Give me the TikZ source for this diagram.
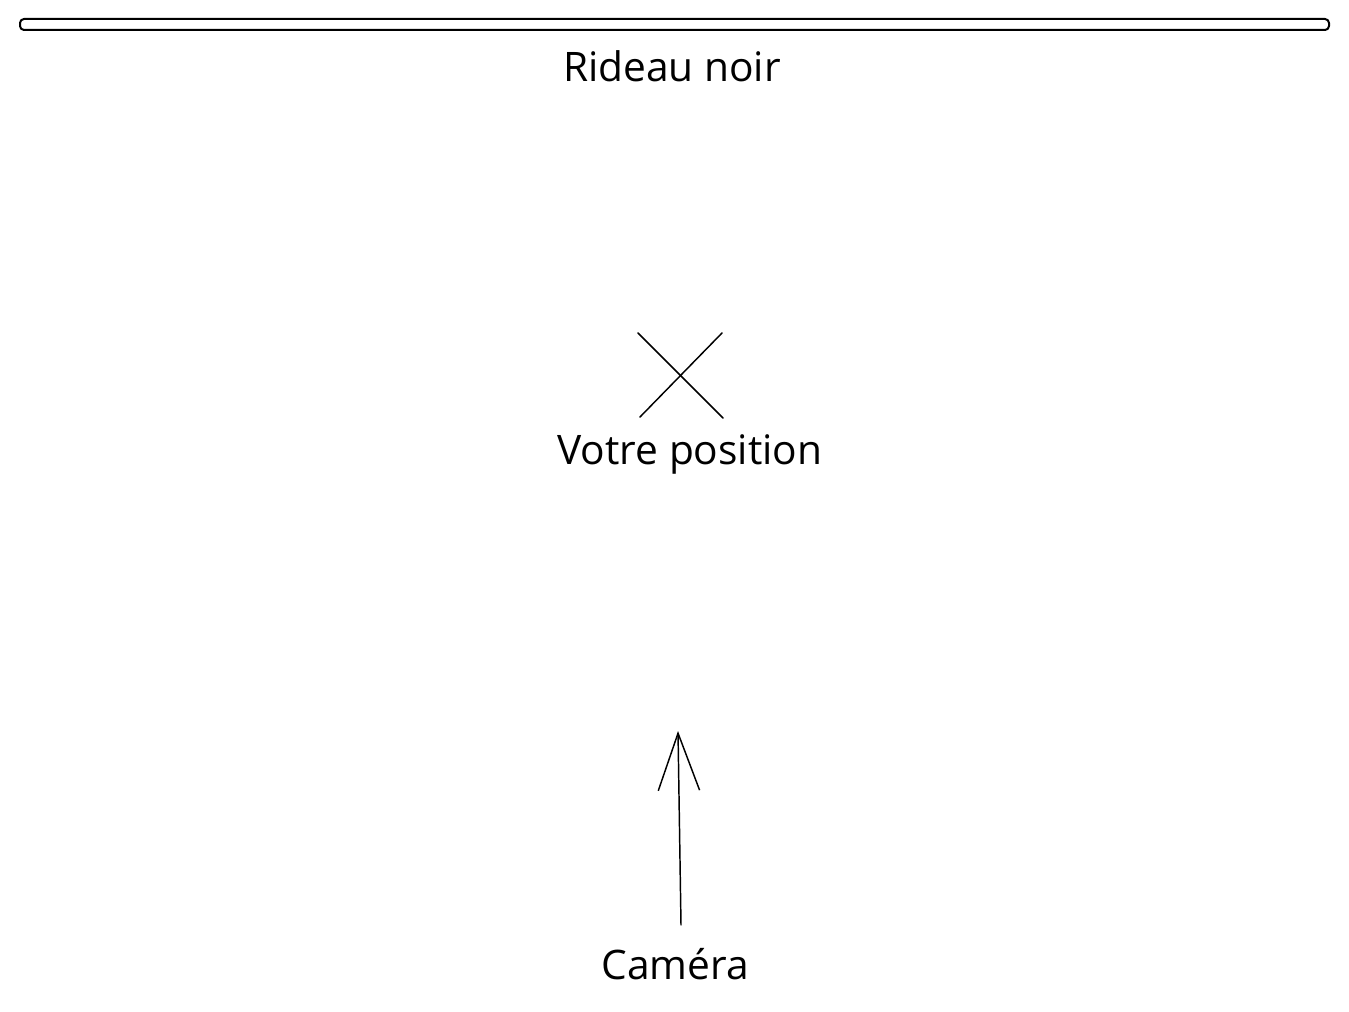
\documentclass[tikz,border=0pt]{standalone}
\usepackage{fontspec}
\setmainfont{Open Sans}
\usetikzlibrary{arrows.meta}
\begin{document}
\begin{tikzpicture}[x=0.75pt,y=-0.75pt,
  lbl/.style={font=\fontsize{30.5}{34}\selectfont, anchor=base, inner sep=0pt},
  ink/.style={line width=1.5pt, black, line cap=round, line join=round},
  thin ink/.style={line width=1.1pt, black, line cap=round}]
\useasboundingbox (0,0) rectangle (1349,1012);
\fill[white] (0,0) rectangle (1349,1012);
% curtain
\draw[ink, rounded corners=3pt] (20,19) rectangle (1329,30);
\node[lbl] (rideau) at (672,82) {Rideau noir};
% position cross
\coordinate (x1) at (638,333);
\coordinate (x2) at (723,418);
\coordinate (x3) at (722,333);
\coordinate (x4) at (640,417);
\draw[thin ink] (x1) -- (x2);
\draw[thin ink] (x3) -- (x4);
\node[lbl] (pos) at (690,464) {Votre position};
% camera
\node[lbl] (cam) at (675,979) {Caméra};
\coordinate (tail) at (681,925);
\coordinate (tip) at (678,731);
\draw[thin ink, -{Straight Barb[length=43pt,width=31pt,line width=1.1pt]}] (tail) -- (tip);
\end{tikzpicture}
\end{document}
